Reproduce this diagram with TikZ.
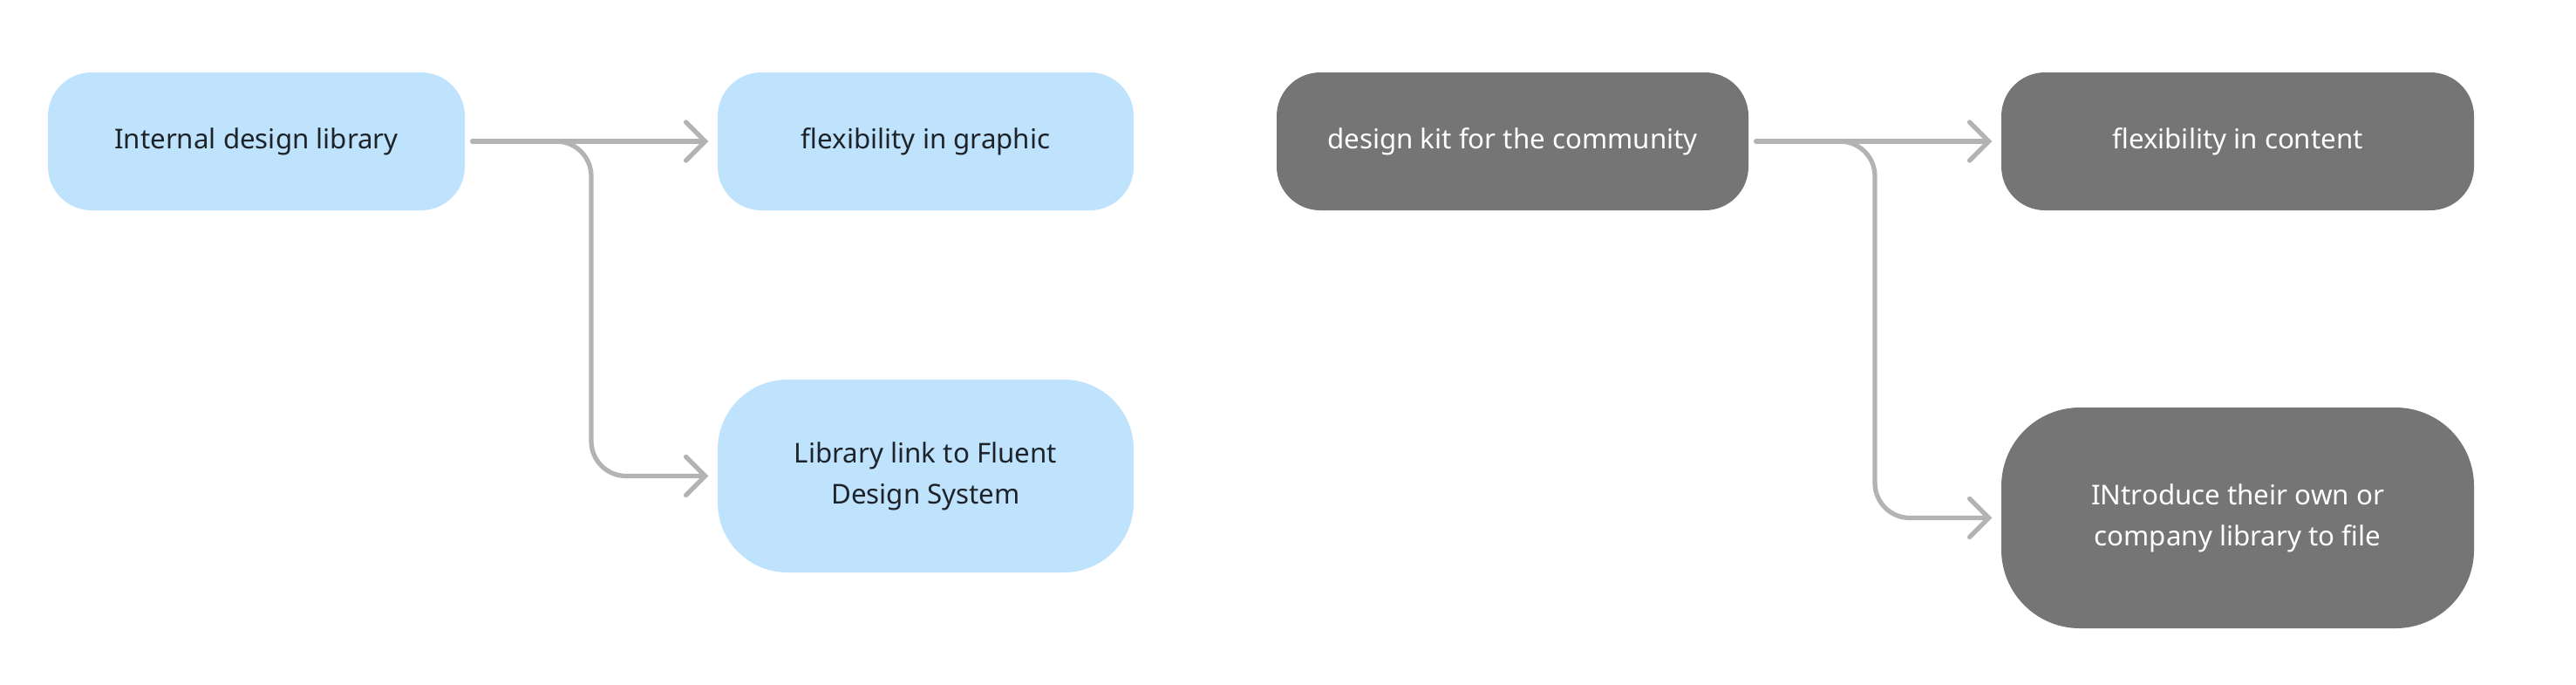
\documentclass[tikz,border=0pt]{standalone}
\usepackage{fontspec}
\setmainfont{Noto Sans}
\usetikzlibrary{arrows.meta}
\definecolor{bleuClair}{HTML}{BFE3FD}
\definecolor{grisFonce}{HTML}{757575}
\definecolor{grisLien}{HTML}{B3B3B3}
\definecolor{encre}{HTML}{1E232A}
\tikzset{
  boite/.style={rectangle, rounded corners=.5cm, align=center, inner sep=0pt,
    font=\fontsize{8.9}{13.4}\selectfont},
  boiteClaire/.style={boite, fill=bleuClair, text=encre},
  boiteSombre/.style={boite, fill=grisFonce, text=white},
  lien/.style={draw=grisLien, line width=1.5pt, line cap=round,
    -{Straight Barb[length=.22cm, width=.44cm, line cap=round]},
    shorten <=.08cm, shorten >=.1cm}
}

\begin{document}
\begin{tikzpicture}
  \useasboundingbox (0, 0) rectangle (29.54, -7.84) ;
  \node[boiteClaire, minimum width=4.78cm, minimum height=1.58cm]
    (interne) at (2.94, -1.62) {Internal design library} ;
  \node[boiteClaire, minimum width=4.77cm, minimum height=1.58cm]
    (graphique) at (10.615, -1.62) {flexibility in graphic} ;
  \node[boiteClaire, minimum width=4.77cm, minimum height=2.21cm, rounded corners=.8cm]
    (fluent) at (10.615, -5.455) {Library link to Fluent\\Design System} ;
  \node[boiteSombre, minimum width=5.41cm, minimum height=1.58cm]
    (kit) at (17.345, -1.62) {design kit for the community} ;
  \node[boiteSombre, minimum width=5.42cm, minimum height=1.58cm]
    (contenu) at (25.66, -1.62) {flexibility in content} ;
  \node[boiteSombre, minimum width=5.42cm, minimum height=2.53cm, rounded corners=.9cm]
    (propre) at (25.66, -5.935) {INtroduce their own or\\company library to file} ;
  \coordinate (fourcheA) at (6.78, -1.62) ;
  \coordinate (fourcheB) at (21.50, -1.62) ;
  \draw[lien] (interne) -- (graphique) ;
  \draw[lien, rounded corners=.4cm] (interne.east) -- (fourcheA) |- (fluent.west) ;
  \draw[lien] (kit) -- (contenu) ;
  \draw[lien, rounded corners=.4cm] (kit.east) -- (fourcheB) |- (propre.west) ;
\end{tikzpicture}
\end{document}
